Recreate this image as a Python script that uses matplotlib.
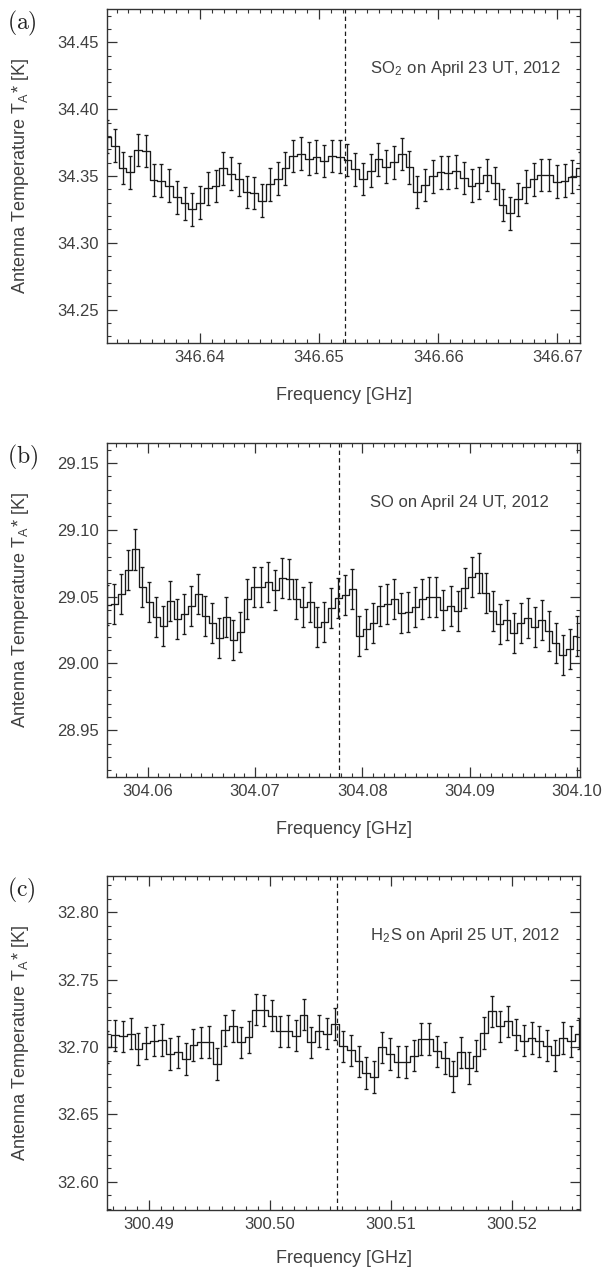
import numpy as np
import matplotlib
matplotlib.use("Agg")
import matplotlib.pyplot as plt
from matplotlib.ticker import MultipleLocator, FormatStrFormatter

plt.rcParams['font.family'] = ['Liberation Sans', 'DejaVu Sans']
plt.rcParams['mathtext.fontset'] = 'cm'

# ---------------- data ----------------
# (a) SO2
freq_a_start = 346.6322
chan_a = 0.000651
temp_a = [34.3795, 34.3728, 34.3560, 34.3528, 34.3695, 34.3688, 34.3470, 34.3465,
          34.3428, 34.3340, 34.3295, 34.3250, 34.3300, 34.3408, 34.3425, 34.3558,
          34.3518, 34.3475, 34.3380, 34.3373, 34.3315, 34.3438, 34.3480, 34.3558,
          34.3650, 34.3668, 34.3630, 34.3645, 34.3613, 34.3650, 34.3645, 34.3620,
          34.3550, 34.3478, 34.3540, 34.3625, 34.3570, 34.3603, 34.3665, 34.3565,
          34.3380, 34.3433, 34.3498, 34.3528, 34.3525, 34.3535, 34.3485, 34.3428,
          34.3448, 34.3508, 34.3448, 34.3283, 34.3220, 34.3325, 34.3420, 34.3475,
          34.3508, 34.3508, 34.3458, 34.3465, 34.3495, 34.3558]
err_a = 0.0122
rest_a = 346.652169
ylim_a = (34.225, 34.475)
xlim_a = (346.6322, 346.6719)
xticks_a = [346.64, 346.65, 346.66, 346.67]
yticks_a = [34.25, 34.30, 34.35, 34.40, 34.45]
note_a = r'SO$_\mathregular{2}$ on April 23 UT, 2012'

# (b) SO
freq_b_start = 304.0562
chan_b = 0.0006536
temp_b = [29.0440, 29.0448, 29.0520, 29.0699, 29.0853, 29.0570, 29.0460, 29.0350,
          29.0280, 29.0470, 29.0330, 29.0370, 29.0430, 29.0520, 29.0355, 29.0305,
          29.0188, 29.0350, 29.0175, 29.0238, 29.0480, 29.0575, 29.0570, 29.0610,
          29.0550, 29.0638, 29.0630, 29.0480, 29.0425, 29.0463, 29.0275, 29.0313,
          29.0413, 29.0490, 29.0510, 29.0555, 29.0205, 29.0260, 29.0300, 29.0430,
          29.0445, 29.0480, 29.0380, 29.0385, 29.0425, 29.0480, 29.0500, 29.0500,
          29.0400, 29.0430, 29.0390, 29.0568, 29.0650, 29.0680, 29.0530, 29.0395,
          29.0295, 29.0325, 29.0230, 29.0305, 29.0340, 29.0275, 29.0325, 29.0240,
          29.0150, 29.0060, 29.0110, 29.0205]
err_b = 0.0150
rest_b = 304.077844
ylim_b = (28.915, 29.165)
xlim_b = (304.0562, 304.1003)
xticks_b = [304.06, 304.07, 304.08, 304.09, 304.10]
yticks_b = [28.95, 29.00, 29.05, 29.10, 29.15]
note_b = 'SO on April 24 UT, 2012'

# (c) H2S
freq_c_start = 300.48653
chan_c = 0.000650
temp_c = [32.7000, 32.7087, 32.7080, 32.7099, 32.6985, 32.7030, 32.7047, 32.7054,
          32.6950, 32.6965, 32.6913, 32.7015, 32.7035, 32.7037, 32.6874, 32.7124,
          32.7158, 32.7035, 32.7074, 32.7277, 32.7272, 32.7233, 32.7116, 32.7121,
          32.7084, 32.7240, 32.7035, 32.7121, 32.7099, 32.7171, 32.7005, 32.6975,
          32.6894, 32.6807, 32.6777, 32.6998, 32.6950, 32.6891, 32.6889, 32.6936,
          32.7059, 32.7059, 32.6968, 32.6918, 32.6782, 32.6960, 32.6844, 32.6936,
          32.7104, 32.7265, 32.7153, 32.7191, 32.7092, 32.7047, 32.7067, 32.7042,
          32.7010, 32.6938, 32.7067, 32.7042, 32.7099]
err_c = 0.0117
rest_c = 300.505560
ylim_c = (32.579, 32.827)
xlim_c = (300.48653, 300.52564)
xticks_c = [300.49, 300.50, 300.51, 300.52]
yticks_c = [32.60, 32.65, 32.70, 32.75, 32.80]
note_c = r'H$_\mathregular{2}$S on April 25 UT, 2012'

panels = [
    ('(a)', freq_a_start, chan_a, temp_a, err_a, rest_a, xlim_a, ylim_a, xticks_a, yticks_a, note_a),
    ('(b)', freq_b_start, chan_b, temp_b, err_b, rest_b, xlim_b, ylim_b, xticks_b, yticks_b, note_b),
    ('(c)', freq_c_start, chan_c, temp_c, err_c, rest_c, xlim_c, ylim_c, xticks_c, yticks_c, note_c),
]

# ---------------- figure ----------------
W, H = 603, 1273
fig = plt.figure(figsize=(W / 100, H / 100), dpi=100)
tops = [9, 443, 876]
xlab_off = [52, 52, 48.5]
ax_left, ax_right, ax_h = 107, 580, 334
txt_col = '#404040'
line_col = '#1a1a1a'

for (lab, f0, ch, temp, err, rest, xl, yl, xt, yt, note), top, xo in zip(panels, tops, xlab_off):
    ax = fig.add_axes([ax_left / W, 1 - (top + ax_h) / H, (ax_right - ax_left) / W, ax_h / H])
    temp = np.array(temp)
    freq = f0 + ch * np.arange(len(temp))
    ax.step(freq, temp, where='mid', color=line_col, lw=0.95)
    ax.errorbar(freq, temp, yerr=err, fmt='none', ecolor=line_col, elinewidth=0.95,
                capsize=1.6, capthick=0.95)
    ax.axvline(rest, color=line_col, lw=0.9, ls=(0, (3.5, 2.5)))
    ax.set_xlim(*xl)
    ax.set_ylim(*yl)
    ax.set_xticks(xt)
    ax.set_yticks(yt)
    ax.xaxis.set_major_formatter(FormatStrFormatter('%.2f'))
    ax.yaxis.set_major_formatter(FormatStrFormatter('%.2f'))
    ax.xaxis.set_minor_locator(MultipleLocator(0.001))
    ax.yaxis.set_minor_locator(MultipleLocator(0.01))
    ax.tick_params(which='both', direction='in', top=True, right=True,
                   colors='#333333', labelcolor=txt_col, labelsize=12)
    ax.tick_params(which='major', length=7, width=0.9)
    ax.tick_params(which='minor', length=3, width=0.8)
    ax.tick_params(axis='x', pad=5)
    ax.tick_params(axis='y', pad=6)
    for s in ax.spines.values():
        s.set_color('#333333')
        s.set_linewidth(1.0)
    ax.set_xlabel('Frequency [GHz]', fontsize=13, color=txt_col)
    ax.set_ylabel(r'Antenna Temperature T$_\mathregular{A}$* [K]',
                  fontsize=13, color=txt_col)
    ax.xaxis.set_label_coords(0.5, -xo / ax_h)
    ax.xaxis.label.set_verticalalignment('center')
    ax.yaxis.set_label_coords((20.7 - ax_left) / (ax_right - ax_left), 0.5)
    ax.yaxis.label.set_verticalalignment('center')
    ax.text(0.556, 0.823, note, transform=ax.transAxes, fontsize=12,
            color=txt_col, ha='left', va='center')
    fig.text(7 / W, 1 - (top + 14) / H, r'$\mathrm{' + lab + '}$', fontsize=17,
             color='#222222', ha='left', va='center')

fig.savefig('out.png', dpi=100)
